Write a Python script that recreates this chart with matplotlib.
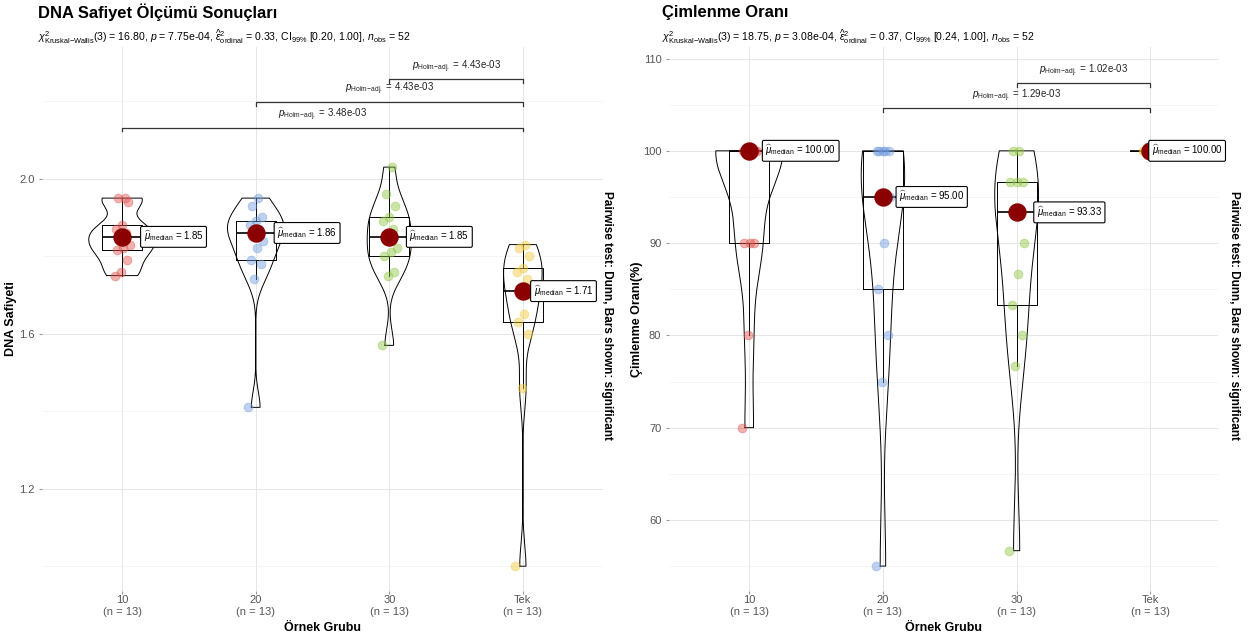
import numpy as np
import matplotlib
matplotlib.use("Agg")
import matplotlib.pyplot as plt

plt.rcParams['font.family'] = ['Liberation Sans', 'DejaVu Sans']
plt.rcParams['mathtext.fontset'] = 'custom'
plt.rcParams['mathtext.rm'] = 'Liberation Sans'
plt.rcParams['mathtext.it'] = 'Liberation Sans:italic'
plt.rcParams['mathtext.bf'] = 'Liberation Sans:bold'

groups = ["10", "20", "30", "Tek"]
point_colors = ["#E0504A", "#6F9BDE", "#8DC63F", "#F2C935"]

# DNA Safiyeti per group
dna_10 = [1.75, 1.76, 1.79, 1.815, 1.82, 1.83, 1.85, 1.86, 1.87, 1.88, 1.94, 1.95, 1.95]
dna_20 = [1.41, 1.74, 1.78, 1.79, 1.82, 1.84, 1.86, 1.87, 1.88, 1.89, 1.90, 1.93, 1.95]
dna_30 = [1.57, 1.75, 1.76, 1.80, 1.81, 1.82, 1.85, 1.87, 1.89, 1.90, 1.93, 1.96, 2.03]
dna_tek = [1.00, 1.46, 1.60, 1.63, 1.65, 1.70, 1.71, 1.74, 1.76, 1.77, 1.80, 1.82, 1.83]

# Cimlenme Orani (%) per group
cim_10 = [70, 80, 90, 90, 90, 100, 100, 100, 100, 100, 100, 100, 100]
cim_20 = [55, 75, 80, 85, 90, 95, 95, 95, 100, 100, 100, 100, 100]
cim_30 = [56.67, 76.67, 80, 83.33, 86.67, 90, 93.33, 93.33, 96.67, 96.67, 96.67, 100, 100]
cim_tek = [100] * 13

dna_sub = (r"$\chi^2_{\mathrm{Kruskal{-}Wallis}}(3)$ = 16.80, $p$ = 7.75e-04, "
           r"$\widehat{\epsilon}^2_{\mathrm{ordinal}}$ = 0.33, CI$_{99\%}$ [0.20, 1.00], $n_{\mathrm{obs}}$ = 52")
cim_sub = (r"$\chi^2_{\mathrm{Kruskal{-}Wallis}}(3)$ = 18.75, $p$ = 3.08e-04, "
           r"$\widehat{\epsilon}^2_{\mathrm{ordinal}}$ = 0.37, CI$_{99\%}$ [0.24, 1.00], $n_{\mathrm{obs}}$ = 52")

# pairwise comparisons shown (group a, group b, p adj)
dna_pairs = [("30", "Tek", "4.43e-03"), ("20", "Tek", "4.43e-03"), ("10", "Tek", "3.48e-03")]
cim_pairs = [("30", "Tek", "1.02e-03"), ("20", "Tek", "1.29e-03")]


def kde(v, grid):
    v = np.asarray(v, float)
    sd = v.std(ddof=1)
    q75, q25 = np.percentile(v, [75, 25])
    lo = min(sd, (q75 - q25) / 1.34)
    if lo <= 0:
        lo = sd
    bw = 0.9 * lo * len(v) ** -0.2
    z = (grid[:, None] - v[None, :]) / bw
    return np.exp(-0.5 * z ** 2).sum(1) / (len(v) * bw * np.sqrt(2 * np.pi))


def panel(ax, data, xlim, ylim, major, minor, bracket_y, pairs, tick_d, ylabel, ylab_x, lab_dx):
    pos = np.arange(1, len(data) + 1)
    ax.set_xlim(*xlim)
    ax.set_ylim(*ylim)
    for s in ax.spines.values():
        s.set_visible(False)
    ax.set_yticks(major)
    ax.set_yticks(minor, minor=True)
    ax.set_xticks(pos)
    ax.set_xticklabels([f"{g}\n(n = {len(v)})" for g, v in zip(groups, data)])
    ax.grid(True, which="major", color="#E6E6E6", lw=0.7)
    ax.grid(True, which="minor", axis="y", color="#F2F2F2", lw=0.5)
    ax.set_axisbelow(True)
    ax.tick_params(which="both", length=2, color="#9A9A9A", labelcolor="#555555", labelsize=8)
    ax.tick_params(axis="x", pad=1)
    ax.tick_params(which="minor", length=0)

    # violins (area scaled, trimmed to data range)
    dens = []
    for v in data:
        v = np.asarray(v, float)
        if v.std() == 0:
            dens.append(None)
            continue
        grid = np.linspace(v.min(), v.max(), 200)
        dens.append((grid, kde(v, grid)))
    dmax = max(d[1].max() for d in dens if d is not None)
    for p, d in zip(pos, dens):
        if d is None:
            continue
        hw = d[1] / dmax * 0.25
        xs = np.concatenate([p - hw, (p + hw)[::-1], [p - hw[0]]])
        ys = np.concatenate([d[0], d[0][::-1], [d[0][0]]])
        ax.plot(xs, ys, color="black", lw=0.7, zorder=2)

    ax.boxplot(data, positions=pos, widths=0.3, showfliers=False, showcaps=False,
               manage_ticks=False,
               boxprops=dict(color="black", lw=0.7),
               whiskerprops=dict(color="black", lw=0.7),
               medianprops=dict(color="black", lw=1.2), zorder=3)

    for p, v, c, dx in zip(pos, data, point_colors, lab_dx):
        n = len(v)
        jit = np.array([((i * 5) % n - (n - 1) / 2) / n for i in range(n)]) * 0.12
        ax.scatter(p + jit, v, s=40, color=c, alpha=0.45, edgecolors=c, linewidths=0.6, zorder=4)
        med = np.median(v)
        ax.scatter([p], [med], s=150, color="#8B0000", zorder=6)
        ax.text(p + dx, med, r"$\widehat{\mu}_{\mathrm{median}}$ = " + f"{med:.2f}",
                fontsize=7, va="center", ha="left", zorder=7,
                bbox=dict(boxstyle="round,pad=0.3,rounding_size=0.15", fc="white", ec="black", lw=0.8))

    idx = {g: i + 1 for i, g in enumerate(groups)}
    for (a, b, pv), y in zip(pairs, bracket_y):
        xa, xb = idx[a], idx[b]
        ax.plot([xa, xa, xb, xb], [y - tick_d, y, y, y - tick_d], color="#333333", lw=0.9)
        ax.text((xa + xb) / 2, y + tick_d * 1.2, r"$p_{\mathrm{Holm{-}adj.}}$ = " + pv,
                fontsize=7, ha="center", va="bottom", color="#222222")

    ax.set_xlabel("Örnek Grubu", fontsize=9, fontweight="bold", labelpad=4)
    ax.set_ylabel(ylabel, fontsize=9, fontweight="bold")
    ax.yaxis.set_label_coords(ylab_x, 0.5)


fig = plt.figure(figsize=(12.51, 6.42), dpi=100)
W, H = 1251, 642
top, bot = 47, 591
ax1 = fig.add_axes([42 / W, 1 - bot / H, 561 / W, (bot - top) / H])
ax2 = fig.add_axes([669 / W, 1 - bot / H, 549 / W, (bot - top) / H])

panel(ax1, [dna_10, dna_20, dna_30, dna_tek], (0.4, 4.6), (0.936, 2.34), [1.2, 1.6, 2.0],
      [1.0, 1.4, 1.8, 2.2], [2.257, 2.199, 2.132], dna_pairs, 0.01, "DNA Safiyeti", -0.044,
      [0.16, 0.16, 0.15, 0.08])
panel(ax2, [cim_10, cim_20, cim_30, cim_tek], (0.4, 4.506), (52.3, 111.25), [60, 70, 80, 90, 100, 110],
      [55, 65, 75, 85, 95, 105], [107.3, 104.6], cim_pairs, 0.4, "Çimlenme Oranı(%)", -0.048,
      [0.12, 0.12, 0.15, 0.01])

cap = "Pairwise test: Dunn, Bars shown: significant"
fig.text(607 / W, 1 - 315 / H, cap, fontsize=8.5, fontweight="bold", rotation=270, ha="center", va="center")
fig.text(1234 / W, 1 - 315 / H, cap, fontsize=8.5, fontweight="bold", rotation=270, ha="center", va="center")

fig.text(38 / W, 1 - 12 / H, "DNA Safiyet Ölçümü Sonuçları", fontsize=11.9, fontweight="bold", va="center")
fig.text(38 / W, 1 - 37 / H, dna_sub, fontsize=7.6, va="center")
fig.text(662 / W, 1 - 12 / H, "Çimlenme Oranı", fontsize=11.9, fontweight="bold", va="center")
fig.text(662 / W, 1 - 37 / H, cim_sub, fontsize=7.6, va="center")

fig.savefig("out.png", dpi=100)
